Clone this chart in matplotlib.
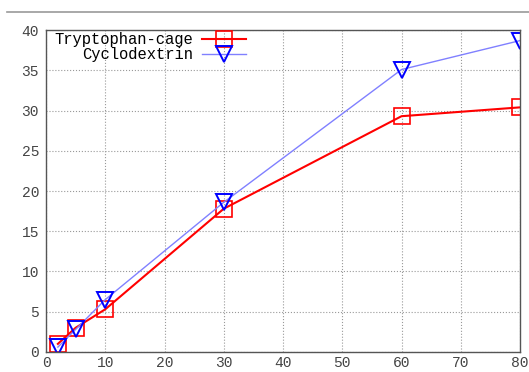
import matplotlib.pyplot as plt
from matplotlib.lines import Line2D

plt.rcParams['font.family'] = ['Liberation Mono', 'DejaVu Sans Mono']

time = [2, 5, 10, 30, 60, 80]
trp_cage = [1.0, 3.0, 5.3, 17.8, 29.3, 30.4]
cyclodextrin = [0.6, 2.8, 6.5, 18.6, 35.1, 38.7]

fig = plt.figure(figsize=(5.29, 3.72), dpi=100)
ax = fig.add_axes([0.087, 0.054, 0.896, 0.865])

ax.plot(time, trp_cage, color='#ff0000', lw=1.5, marker='s', ms=11,
        mfc='none', mec='#ff0000', mew=1.2, label='Tryptophan-cage')
ax.plot(time, cyclodextrin, color='#8080ff', lw=1.0, marker='v', ms=11,
        mfc='none', mec='#0000ff', mew=1.4, label='Cyclodextrin')

ax.set_xlim(0, 80)
ax.set_ylim(0, 40)
ax.set_xticks(range(0, 81, 10))
ax.set_yticks(range(0, 41, 5))
ax.grid(True, color='#999999', linestyle=':', linewidth=0.8)
ax.tick_params(labelsize=10.5, colors='#444444', direction='in', length=0)
ax.tick_params(axis='x', pad=3)
ax.tick_params(axis='y', pad=5)
for s in ax.spines.values():
    s.set_color('#555555')
    s.set_linewidth(1.0)

ax.legend(loc='upper left', bbox_to_anchor=(0.009, 1.005), markerfirst=False,
          frameon=False, fontsize=11.2, handlelength=2.8, borderaxespad=0.0,
          borderpad=0.25, labelspacing=0.0, handletextpad=0.6)

# thin rule at the top of the image
fig.add_artist(Line2D([0.013, 1.0], [0.969, 0.969], color='#999999', lw=1.2))

fig.savefig('out.png')
